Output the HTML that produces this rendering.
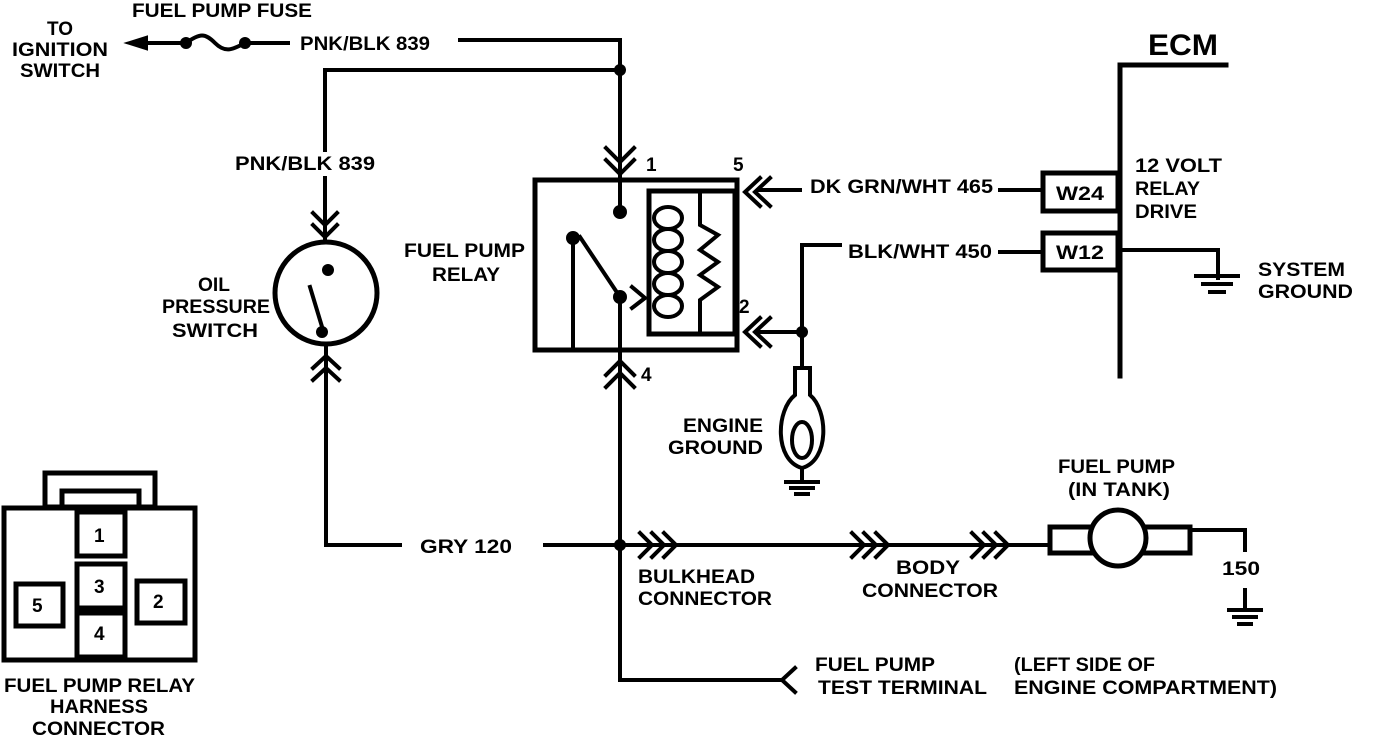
<!DOCTYPE html>
<html><head><style>
html,body{margin:0;padding:0;background:#fff;}
svg{display:block;}
text{font-family:"Liberation Sans",sans-serif;font-weight:bold;font-size:19px;fill:#000;}
</style></head><body>
<svg width="1376" height="738" viewBox="0 0 1376 738" xmlns="http://www.w3.org/2000/svg">
<g stroke="#000" stroke-width="4" fill="none" stroke-linecap="square">
<line x1="140" y1="43" x2="186" y2="43"/>
<polygon points="130,43 146,38 146,48" fill="#000"/>
<path d="M186,43 C200,33 205,33 215,43 C225,53 232,50 245,43"/>
<line x1="245" y1="43" x2="288" y2="43"/>
<polyline points="460,40 620,40 620,180"/>
<polyline points="620,70 325,70 325,150"/>
<line x1="325" y1="178" x2="325" y2="240"/>
<polyline points="313,213 325,225 337,213"/>
<polyline points="313,225 325,237 337,225"/>
<circle cx="326" cy="293" r="51" stroke-width="5"/>
<line x1="310" y1="287" x2="323" y2="330"/>
<line x1="326" y1="344" x2="326" y2="545"/>
<polyline points="313,368 326,356 339,368"/>
<polyline points="313,380 326,368 339,380"/>
<polyline points="326,545 400,545"/>
<line x1="545" y1="545" x2="1050" y2="545"/>
<polyline points="606,148 620,162 634,148"/>
<polyline points="606,160 620,174 634,160"/>
<rect x="535" y="180" width="202" height="170" stroke-width="5"/>
<line x1="620" y1="180" x2="620" y2="212"/>
<rect x="649" y="191" width="86" height="143" stroke-width="5"/>
<polyline points="700,191 700,225 718,235 700,250 718,262 700,275 718,287 700,300 700,334"/>
<line x1="573" y1="238" x2="573" y2="350"/>
<line x1="580" y1="237" x2="620" y2="297"/>
<line x1="620" y1="297" x2="620" y2="680"/>
<polyline points="632,287 645,298 632,308" />
<polyline points="606,375 620,361 634,375"/>
<polyline points="606,387 620,373 634,387"/>
<polyline points="620,680 780,680"/>
<polyline points="795,668 782,680 795,692"/>
<polyline points="760,178 745,192 760,206"/>
<polyline points="770,178 755,192 770,206"/>
<line x1="760" y1="190" x2="800" y2="190"/>
<line x1="1000" y1="190" x2="1043" y2="190"/>
<polyline points="760,318 745,332 760,346"/>
<polyline points="770,318 755,332 770,346"/>
<line x1="760" y1="332" x2="802" y2="332"/>
<polyline points="840,245 802,245 802,368"/>
<line x1="1000" y1="252" x2="1043" y2="252"/>
<path d="M795,368 L810,368 L810,395 C828,410 830,460 802,468 C774,460 776,410 795,395 Z"/>
<ellipse cx="802" cy="440" rx="10" ry="18"/>
<line x1="802" y1="468" x2="802" y2="480"/>
<line x1="786" y1="482" x2="818" y2="482"/>
<line x1="791" y1="488" x2="813" y2="488"/>
<line x1="796" y1="494" x2="808" y2="494"/>
<polyline points="1226,65 1120,65 1120,376" stroke-width="5"/>
<rect x="1043" y="173" width="75" height="38" stroke-width="5"/>
<rect x="1043" y="233" width="75" height="37" stroke-width="5"/>
<polyline points="1120,250 1218,250 1218,278"/>
<line x1="1196" y1="276" x2="1238" y2="276"/>
<line x1="1203" y1="284" x2="1231" y2="284"/>
<line x1="1210" y1="292" x2="1224" y2="292"/>
<polyline points="640,533 652,545 640,557"/><polyline points="652,533 664,545 652,557"/><polyline points="664,533 676,545 664,557"/>
<polyline points="852,533 864,545 852,557"/><polyline points="864,533 876,545 864,557"/><polyline points="876,533 888,545 876,557"/>
<polyline points="972,533 984,545 972,557"/><polyline points="984,533 996,545 984,557"/><polyline points="996,533 1008,545 996,557"/>
<rect x="1050" y="527" width="140" height="26" fill="#fff" stroke-width="5"/>
<circle cx="1118" cy="538" r="28" fill="#fff" stroke-width="5"/>
<polyline points="1190,530 1245,530 1245,550"/>
<line x1="1245" y1="590" x2="1245" y2="608"/>
<line x1="1229" y1="610" x2="1261" y2="610"/>
<line x1="1234" y1="617" x2="1256" y2="617"/>
<line x1="1239" y1="624" x2="1251" y2="624"/>
<rect x="45" y="473" width="110" height="34" stroke-width="5"/>
<rect x="62" y="491" width="77" height="16" stroke-width="5"/>
<rect x="4" y="508" width="191" height="152" fill="#fff" stroke-width="5"/>
<rect x="77" y="512" width="48" height="44" stroke-width="5"/>
<rect x="77" y="564" width="48" height="44" stroke-width="5"/>
<rect x="77" y="613" width="48" height="44" stroke-width="5"/>
<rect x="16" y="584" width="47" height="42" stroke-width="5"/>
<rect x="137" y="581" width="48" height="42" stroke-width="5"/>
</g>
<g fill="#000">
<circle cx="186" cy="43" r="6"/><circle cx="245" cy="43" r="6"/>
<circle cx="620" cy="70" r="6"/>
<circle cx="328" cy="270" r="6"/><circle cx="322" cy="332" r="6"/>
<circle cx="620" cy="212" r="7"/><circle cx="573" cy="238" r="7"/><circle cx="620" cy="297" r="7"/>
<circle cx="802" cy="332" r="6"/><circle cx="620" cy="545" r="6"/>
</g>
<g fill="none" stroke="#000" stroke-width="4">
<ellipse cx="668" cy="218" rx="14" ry="11"/>
<ellipse cx="668" cy="240" rx="14" ry="11"/>
<ellipse cx="668" cy="262" rx="14" ry="11"/>
<ellipse cx="668" cy="284" rx="14" ry="11"/>
<ellipse cx="668" cy="306" rx="14" ry="11"/>
</g>
<text x="132" y="17" textLength="180" lengthAdjust="spacingAndGlyphs">FUEL PUMP FUSE</text>
<text x="47" y="35" textLength="26" lengthAdjust="spacingAndGlyphs">TO</text>
<text x="12" y="56" textLength="96" lengthAdjust="spacingAndGlyphs">IGNITION</text>
<text x="20" y="77" textLength="80" lengthAdjust="spacingAndGlyphs">SWITCH</text>
<text x="300" y="50" textLength="130" lengthAdjust="spacingAndGlyphs">PNK/BLK 839</text>
<text x="235" y="170" textLength="140" lengthAdjust="spacingAndGlyphs">PNK/BLK 839</text>
<text x="198" y="291" textLength="32" lengthAdjust="spacingAndGlyphs">OIL</text>
<text x="162" y="313" textLength="108" lengthAdjust="spacingAndGlyphs">PRESSURE</text>
<text x="172" y="337" textLength="86" lengthAdjust="spacingAndGlyphs">SWITCH</text>
<text x="404" y="257" textLength="121" lengthAdjust="spacingAndGlyphs">FUEL PUMP</text>
<text x="432" y="281" textLength="68" lengthAdjust="spacingAndGlyphs">RELAY</text>
<text x="646" y="171">1</text>
<text x="733" y="171">5</text>
<text x="739" y="313">2</text>
<text x="641" y="381">4</text>
<text x="810" y="193" textLength="183" lengthAdjust="spacingAndGlyphs">DK GRN/WHT 465</text>
<text x="848" y="258" textLength="144" lengthAdjust="spacingAndGlyphs">BLK/WHT 450</text>
<text x="1148" y="55" style="font-size:30px" textLength="70" lengthAdjust="spacingAndGlyphs">ECM</text>
<text x="1056" y="200" textLength="48" lengthAdjust="spacingAndGlyphs">W24</text>
<text x="1056" y="259" textLength="48" lengthAdjust="spacingAndGlyphs">W12</text>
<text x="1135" y="172" textLength="87" lengthAdjust="spacingAndGlyphs">12 VOLT</text>
<text x="1135" y="195" textLength="65" lengthAdjust="spacingAndGlyphs">RELAY</text>
<text x="1135" y="218" textLength="62" lengthAdjust="spacingAndGlyphs">DRIVE</text>
<text x="1258" y="276" textLength="87" lengthAdjust="spacingAndGlyphs">SYSTEM</text>
<text x="1258" y="298" textLength="95" lengthAdjust="spacingAndGlyphs">GROUND</text>
<text x="683" y="432" textLength="80" lengthAdjust="spacingAndGlyphs">ENGINE</text>
<text x="668" y="454" textLength="95" lengthAdjust="spacingAndGlyphs">GROUND</text>
<text x="420" y="553" textLength="92" lengthAdjust="spacingAndGlyphs">GRY 120</text>
<text x="638" y="583" textLength="117" lengthAdjust="spacingAndGlyphs">BULKHEAD</text>
<text x="638" y="605" textLength="134" lengthAdjust="spacingAndGlyphs">CONNECTOR</text>
<text x="896" y="574" textLength="64" lengthAdjust="spacingAndGlyphs">BODY</text>
<text x="862" y="597" textLength="136" lengthAdjust="spacingAndGlyphs">CONNECTOR</text>
<text x="1058" y="473" textLength="117" lengthAdjust="spacingAndGlyphs">FUEL PUMP</text>
<text x="1068" y="496" textLength="102" lengthAdjust="spacingAndGlyphs">(IN TANK)</text>
<text x="1222" y="575" textLength="38" lengthAdjust="spacingAndGlyphs">150</text>
<text x="815" y="671" textLength="120" lengthAdjust="spacingAndGlyphs">FUEL PUMP</text>
<text x="818" y="694" textLength="169" lengthAdjust="spacingAndGlyphs">TEST TERMINAL</text>
<text x="1014" y="671" textLength="141" lengthAdjust="spacingAndGlyphs">(LEFT SIDE OF</text>
<text x="1014" y="694" textLength="263" lengthAdjust="spacingAndGlyphs">ENGINE COMPARTMENT)</text>
<text x="94" y="542">1</text>
<text x="94" y="593">3</text>
<text x="94" y="640">4</text>
<text x="32" y="612">5</text>
<text x="153" y="608">2</text>
<text x="4" y="692" textLength="191" lengthAdjust="spacingAndGlyphs">FUEL PUMP RELAY</text>
<text x="50" y="713" textLength="98" lengthAdjust="spacingAndGlyphs">HARNESS</text>
<text x="32" y="735" textLength="133" lengthAdjust="spacingAndGlyphs">CONNECTOR</text>
</svg>
</body></html>
